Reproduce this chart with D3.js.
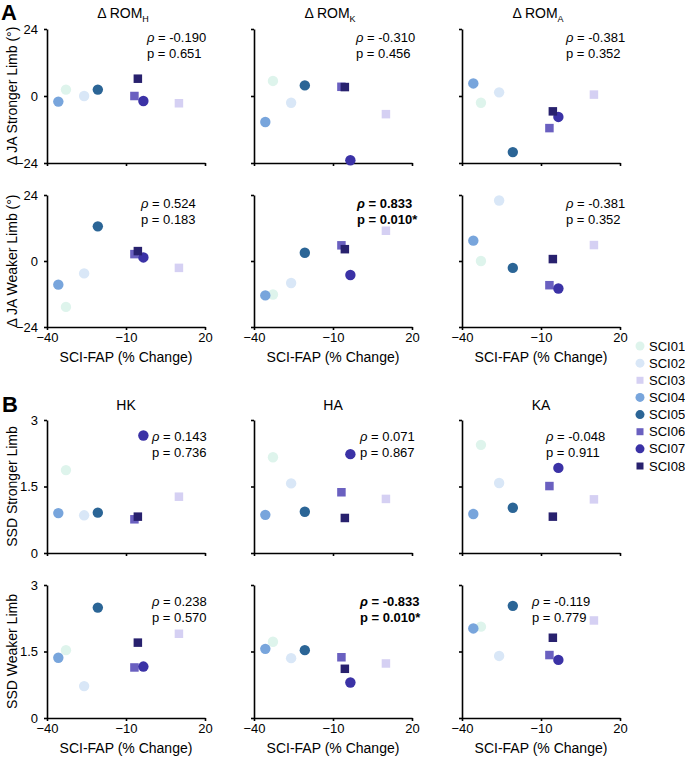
<!DOCTYPE html>
<html>
<head>
<meta charset="utf-8">
<script src="https://cdn.jsdelivr.net/npm/d3@7"></script>
<style>
  body { margin: 0; background: #fff; }
  svg { font-family: "Liberation Sans", Arial, sans-serif; }
</style>
</head>
<body>
<svg id="chart" width="685" height="758"></svg>
<script>
// ---------------- DATA ----------------
const subjects = ["SCI01", "SCI02", "SCI03", "SCI04", "SCI05", "SCI06", "SCI07", "SCI08"];
const shapes   = ["circle", "circle", "square", "circle", "circle", "square", "circle", "square"];
const colors   = ["#def4ec", "#d9e7f7", "#d5d0f3", "#78a5dc", "#2b6596", "#6a60c0", "#3b32a6", "#28216e"];

// SCI-FAP (% Change)
const sciFap = [-32.8, -25.9, 10.1, -35.7, -20.7, -6.8, -3.4, -5.5];

// Panel A: Δ JA (°)
const romH_stronger = [2.3, 0.0, -2.6, -2.0, 2.3, 0.0, -1.8, 6.2];
const romK_stronger = [5.4, -2.4, -6.5, -9.3, 3.8, 3.3, -23.0, 3.2];
const romA_stronger = [-2.4, 1.3, 0.5, 4.5, -20.1, -11.5, -7.5, -5.5];
const romH_weaker   = [-16.7, -4.5, -2.5, -8.6, 12.6, 2.5, 1.3, 3.6];
const romK_weaker   = [-12.2, -8.0, 11.0, -12.5, 3.0, 5.7, -5.1, 4.3];
const romA_weaker   = [0.0, 22.0, 5.8, 7.4, -2.5, -8.8, -10.0, 0.7];

// Panel B: SSD
const hk_stronger = [1.87, 0.85, 1.27, 0.90, 0.91, 0.76, 2.65, 0.82];
const ha_stronger = [2.16, 1.57, 1.22, 0.86, 0.93, 1.37, 2.23, 0.79];
const ka_stronger = [2.44, 1.58, 1.21, 0.88, 1.02, 1.51, 1.92, 0.82];
const hk_weaker   = [1.53, 0.72, 1.90, 1.36, 2.49, 1.14, 1.16, 1.70];
const ha_weaker   = [1.72, 1.35, 1.23, 1.56, 1.53, 1.37, 0.80, 1.11];
const ka_weaker   = [2.06, 1.40, 2.20, 2.02, 2.53, 1.42, 1.31, 1.81];

// correlation stats
const rhoA = [["-0.190", "-0.310", "-0.381"], ["0.524", "0.833", "-0.381"]];
const pA   = [["0.651", "0.456", "0.352"], ["0.183", "0.010*", "0.352"]];
const rhoB = [["0.143", "0.071", "-0.048"], ["0.238", "-0.833", "-0.119"]];
const pB   = [["0.736", "0.867", "0.911"], ["0.570", "0.010*", "0.779"]];
const sigA = [[false, false, false], [false, true, false]];
const sigB = [[false, false, false], [false, true, false]];

// tick labels
const xTicks = [-40, -10, 20];
const yTicksA = [-24, 0, 24];
const yTicksB = [0, 1.5, 3];

const titlesA = [["ROM", "H"], ["ROM", "K"], ["ROM", "A"]];
const titlesB = ["HK", "HA", "KA"];
const yLabelsA = ["Δ JA Stronger Limb (°)", "Δ JA Weaker Limb (°)"];
const yLabelsB = ["SSD Stronger Limb", "SSD Weaker Limb"];
const xLabel = "SCI-FAP (% Change)";

// ---------------- LAYOUT ----------------
const svg = d3.select("#chart");
const colX = [47, 254, 462];
const plotW = 158;
const rowsA = [[29, 163], [195, 327]];
const rowsB = [[420, 553], [585, 718]];
const annoOffA = [[100, 102, 104], [94, 103, 104]];
const annoOffB = [[105, 106, 84], [105, 106, 70]];

const dataA = [[romH_stronger, romK_stronger, romA_stronger], [romH_weaker, romK_weaker, romA_weaker]];
const dataB = [[hk_stronger, ha_stronger, ka_stronger], [hk_weaker, ha_weaker, ka_weaker]];

function drawPanel(x0, top, bottom, yDomain, yTicks, yvals, showYLabels, showXLabels, fmtY) {
  const x = d3.scaleLinear().domain([-40, 20]).range([x0, x0 + plotW]);
  const y = d3.scaleLinear().domain(yDomain).range([bottom, top]);
  const g = svg.append("g");

  const ya = d3.axisLeft(y).tickValues(yTicks).tickSize(3).tickSizeOuter(0).tickPadding(6)
    .tickFormat(showYLabels ? fmtY : () => "");
  const gy = g.append("g").attr("transform", `translate(${x0},0)`).call(ya);

  const xa = d3.axisBottom(x).tickValues(xTicks).tickSize(3).tickSizeOuter(0).tickPadding(3)
    .tickFormat(showXLabels ? d3.format("d") : () => "");
  const gx = g.append("g").attr("transform", `translate(0,${bottom})`).call(xa);

  [gy, gx].forEach(a => {
    a.select(".domain").attr("stroke", "#000").attr("stroke-width", 1.6);
    a.selectAll(".tick line").attr("stroke", "#000").attr("stroke-width", 1.6);
    a.selectAll(".tick text").attr("font-size", 13).attr("fill", "#000")
      .attr("font-family", '"Liberation Sans", Arial, sans-serif');
  });

  const pts = subjects.map((s, i) => ({ s, i, x: sciFap[i], y: yvals[i] }));
  pts.forEach(d => {
    if (shapes[d.i] === "circle") {
      g.append("circle").attr("cx", x(d.x)).attr("cy", y(d.y)).attr("r", 5.2).attr("fill", colors[d.i]);
    } else {
      const s = 8.5;
      g.append("rect").attr("x", x(d.x) - s / 2).attr("y", y(d.y) - s / 2)
        .attr("width", s).attr("height", s).attr("fill", colors[d.i]);
    }
  });

  if (showXLabels) {
    g.append("text").attr("x", x0 + plotW / 2).attr("y", bottom + 35)
      .attr("text-anchor", "middle").attr("font-size", 14).text(xLabel);
  }
  return g;
}

function annotate(x, yTop, rho, p, bold) {
  const t1 = svg.append("text").attr("x", x).attr("y", yTop).attr("font-size", 13)
    .attr("font-weight", bold ? "bold" : "normal");
  t1.append("tspan").attr("font-style", "italic").text("ρ");
  t1.append("tspan").text(" = " + rho);
  svg.append("text").attr("x", x).attr("y", yTop + 16).attr("font-size", 13)
    .attr("font-weight", bold ? "bold" : "normal").text("p = " + p);
}

// Panel A
for (let r = 0; r < 2; r++) {
  for (let c = 0; c < 3; c++) {
    const [top, bottom] = rowsA[r];
    drawPanel(colX[c], top, bottom, [-24, 24], yTicksA, dataA[r][c], c === 0, r === 1, d3.format("d"));
    annotate(colX[c] + annoOffA[r][c], top + 13, rhoA[r][c], pA[r][c], sigA[r][c]);
  }
  svg.append("text")
    .attr("transform", `translate(17,${(rowsA[r][0] + rowsA[r][1]) / 2}) rotate(-90)`)
    .attr("text-anchor", "middle").attr("font-size", 14).text(yLabelsA[r]);
}
for (let c = 0; c < 3; c++) {
  const t = svg.append("text").attr("x", colX[c] + plotW / 2 - 3).attr("y", 18)
    .attr("text-anchor", "middle").attr("font-size", 14);
  t.append("tspan").text("Δ " + titlesA[c][0]);
  t.append("tspan").attr("font-size", 9).attr("dy", 4).text(titlesA[c][1]);
}

// Panel B
for (let r = 0; r < 2; r++) {
  for (let c = 0; c < 3; c++) {
    const [top, bottom] = rowsB[r];
    drawPanel(colX[c], top, bottom, [0, 3], yTicksB, dataB[r][c], c === 0, r === 1, d => d === 1.5 ? "1.5" : d3.format("d")(d));
    annotate(colX[c] + annoOffB[r][c], top + 21, rhoB[r][c], pB[r][c], sigB[r][c]);
  }
  svg.append("text")
    .attr("transform", `translate(17,${(rowsB[r][0] + rowsB[r][1]) / 2}) rotate(-90)`)
    .attr("text-anchor", "middle").attr("font-size", 14).text(yLabelsB[r]);
}
for (let c = 0; c < 3; c++) {
  svg.append("text").attr("x", colX[c] + plotW / 2).attr("y", 410)
    .attr("text-anchor", "middle").attr("font-size", 14).text(titlesB[c]);
}

// Panel letters
svg.append("text").attr("x", 1).attr("y", 20).attr("font-size", 22).attr("font-weight", "bold").text("A");
svg.append("text").attr("x", 2).attr("y", 412).attr("font-size", 22).attr("font-weight", "bold").text("B");

// Legend
const legY = d3.scalePoint().domain(subjects).range([346, 466]);
const leg = svg.append("g");
subjects.forEach((s, i) => {
  const cy = legY(s);
  if (shapes[i] === "circle") {
    leg.append("circle").attr("cx", 640).attr("cy", cy).attr("r", 4.5).attr("fill", colors[i]);
  } else {
    leg.append("rect").attr("x", 636.5).attr("y", cy - 3.5).attr("width", 7).attr("height", 7).attr("fill", colors[i]);
  }
  leg.append("text").attr("x", 649).attr("y", cy).attr("dy", "0.35em").attr("font-size", 13).text(s);
});
</script>
</body>
</html>
